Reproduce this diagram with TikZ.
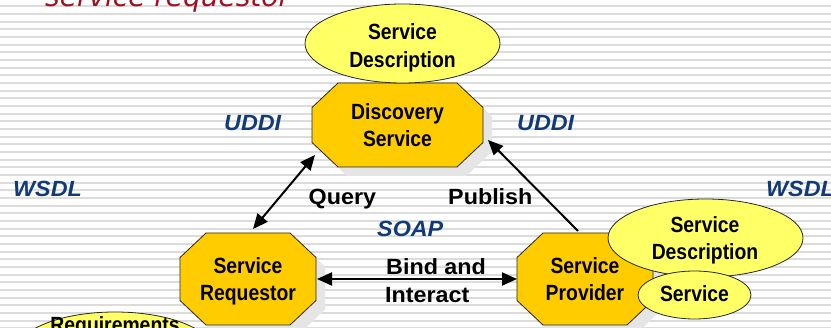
\documentclass[tikz,border=0pt]{standalone}
\usepackage{fontspec}
\setmainfont{Liberation Sans}
\newfontfamily\boxfont{Liberation Sans}[FakeStretch=0.88]
\newfontfamily\lblfont{Liberation Sans}[FakeStretch=1.06]
\newfontfamily\ttlfont{DejaVu Sans}
\usetikzlibrary{arrows.meta,shapes.geometric}
\definecolor{octyellow}{HTML}{FFCC00}
\definecolor{elyellow}{HTML}{FFFF66}
\definecolor{lblblue}{RGB}{16,58,120}
\definecolor{ttlred}{RGB}{160,16,32}
\definecolor{stripegray}{RGB}{220,220,220}
\newcommand\octpath[4]{(#1,{#2+24.5}) -- ({#1+26},#2) -- ({#3-26},#2) -- (#3,{#2+24.5}) -- (#3,{#4-24.5}) -- ({#3-26},#4) -- ({#1+26},#4) -- (#1,{#4-24.5}) -- cycle}
\begin{document}
\begin{tikzpicture}[x=1pt,y=-1pt,
  stripe/.style={draw=stripegray, line width=2pt},
  octfill/.style={fill=octyellow, draw=black!85, line width=0.8pt},
  octshadow/.style={fill=black!10},
  ell/.style={ellipse, fill=elyellow, draw=black!85, line width=0.8pt, inner sep=0pt},
  boxtext/.style={font=\fontsize{22}{27.5}\boxfont\bfseries, align=center, text depth=0pt, inner sep=0pt},
  lbl/.style={font=\fontsize{22}{28}\lblfont\bfseries, inner sep=0pt},
  blbl/.style={font=\fontsize{22}{28}\lblfont\bfseries\itshape, text=lblblue, inner sep=0pt},
  arr/.style={line width=2pt, draw=black},
  tip/.tip={Triangle[length=15pt,width=13pt]}
]
\useasboundingbox (0,0) rectangle (831,328);
\clip (0,0) rectangle (831,328);
\fill[white] (0,0) rectangle (831,328);
% background stripes
\foreach \k in {-1,...,42}
  \draw[stripe] (0,{6.3+7.67*\k}) -- (831,{6.3+7.67*\k});

% title
\node[font=\fontsize{28}{34}\ttlfont\itshape, text=ttlred, anchor=base west, inner sep=0pt] (title) at (45,6.5) {service requestor};

% shadows
\begin{scope}[shift={(9,9)}]
  \fill[octshadow] \octpath{312}{83}{483}{167};
  \fill[octshadow] \octpath{180}{233}{316}{325};
  \fill[octshadow] \octpath{517}{233}{653}{325};
\end{scope}

% octagons
\draw[octfill] \octpath{312}{83}{483}{167};
\draw[octfill] \octpath{180}{233}{316}{325};
\draw[octfill] \octpath{517}{233}{653}{325};
\node[boxtext] (disc) at (397.5,125) {Discovery\\Service};
\node[boxtext] (req) at (248,279) {Service\\Requestor};
\node[boxtext] (prov) at (585,279) {Service\\Provider};

% ellipses
\node[ell, minimum width=195pt, minimum height=79pt] (descTop) at (402.5,43.5) {};
\node[boxtext] (descTopT) at (402.5,45.5) {Service\\Description};
\node[ell, minimum width=195pt, minimum height=78pt] (descR) at (705.5,238) {};
\node[boxtext] (descRT) at (705,237.8) {Service\\Description};
\node[ell, minimum width=113pt, minimum height=48pt] (svc) at (694.5,295) {};
\node[boxtext, anchor=base] (svcT) at (694.5,302) {Service};
\node[ell, minimum width=196pt, minimum height=78pt] (reqEll) at (115,351) {};
\node[boxtext, anchor=base] (reqEllT) at (115,333) {Requirements};

% connectors
\coordinate (qa) at (253,229);
\coordinate (qb) at (315,155);
\coordinate (pa) at (578,231);
\coordinate (pb) at (488,140);
\coordinate (ba) at (317,279);
\coordinate (bb) at (517,279);
\draw[arr, tip-tip] (qa) -- (qb);
\draw[arr, -tip] (pa) -- (pb);
\draw[arr, tip-tip] (ba) -- (bb);

% labels
\node[lbl, anchor=base west] (query) at (308.5,205) {Query};
\node[lbl, anchor=base west] (publish) at (448,205) {Publish};
\node[lbl, anchor=base west] (bind) at (386,275) {Bind and};
\node[lbl, anchor=base west] (interact) at (385,303) {Interact};
\node[blbl, anchor=base west] (soap) at (377,237) {SOAP};
\node[blbl, anchor=base west] (uddiL) at (224,131) {UDDI};
\node[blbl, anchor=base west] (uddiR) at (517,131) {UDDI};
\node[blbl, anchor=base west] (wsdlL) at (13,197) {WSDL};
\node[blbl, anchor=base west] (wsdlR) at (766,197) {WSDL};
\end{tikzpicture}
\end{document}
